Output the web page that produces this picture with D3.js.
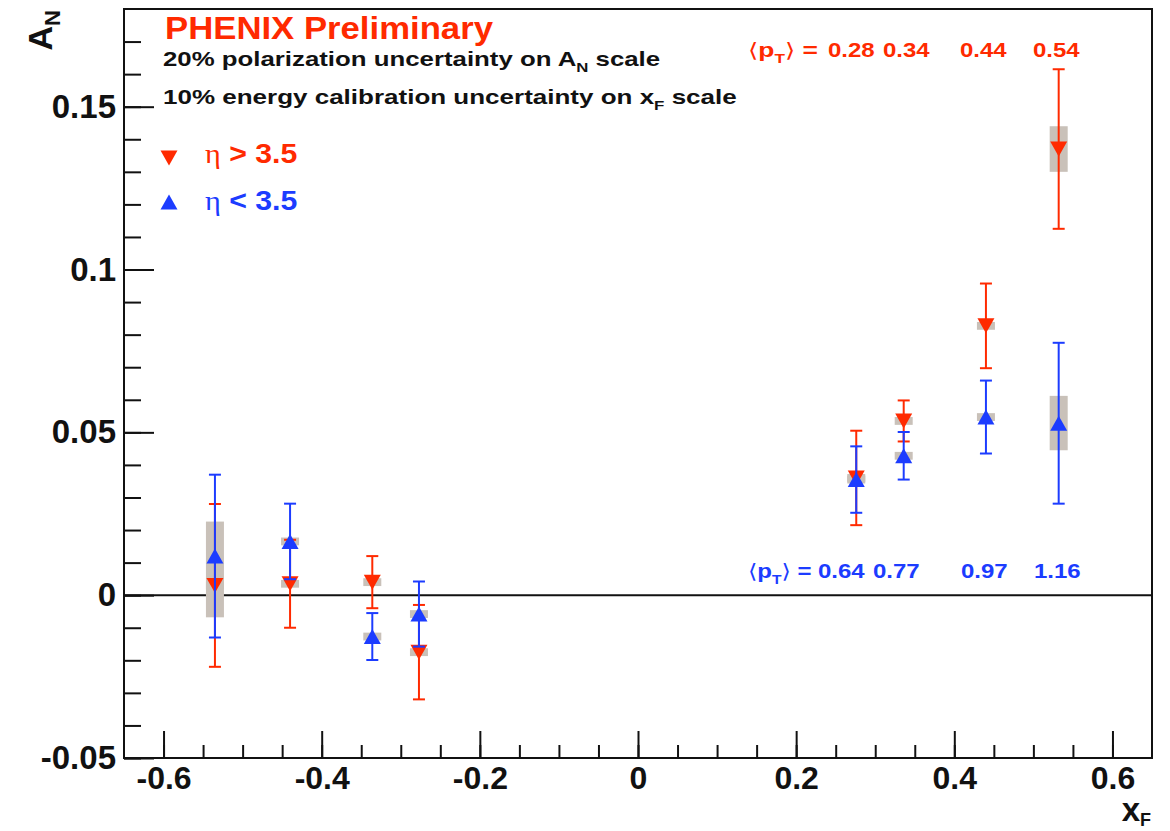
<!DOCTYPE html>
<html>
<head>
<meta charset="utf-8">
<script src="https://cdn.jsdelivr.net/npm/d3@7"></script>
<style>
  html, body { margin: 0; padding: 0; background: #fff; }
  svg { display: block; }
  text { font-family: "Liberation Sans", Arial, Helvetica, sans-serif; }
</style>
</head>
<body>
<svg id="chart" width="1170" height="831"></svg>
<script>
// ---------------- data ----------------
const xF        = [-0.535, -0.44, -0.336, -0.277, 0.276, 0.336, 0.44, 0.532];
const redAN     = [0.003, 0.0035, 0.004, -0.0175, 0.036, 0.0535, 0.0827, 0.137];
const redErr    = [0.025, 0.0135, 0.008, 0.0145, 0.0145, 0.0063, 0.013, 0.0245];
const redSys    = [0.0012, 0.0012, 0.0012, 0.0012, 0.0012, 0.0012, 0.0012, 0.007];
const blueAN    = [0.012, 0.0165, -0.0127, -0.0058, 0.0355, 0.0428, 0.0547, 0.0528];
const blueErr   = [0.025, 0.0116, 0.0072, 0.010, 0.0102, 0.0073, 0.0112, 0.0247];
const blueSysLo = [-0.0068, 0.0153, -0.0139, -0.007, 0.0343, 0.0416, 0.0535, 0.0445];
const blueSysHi = [0.0226, 0.0177, -0.0115, -0.0046, 0.0367, 0.044, 0.0559, 0.0612];
const redPt     = ["0.28", "0.34", "0.44", "0.54"];
const bluePt    = ["0.64", "0.77", "0.97", "1.16"];
const xMajor    = [-0.6, -0.4, -0.2, 0, 0.2, 0.4, 0.6];
const xMinor    = d3.range(-12, 13).map(i => +(i * 0.05).toFixed(2));
const yMajor    = [-0.05, 0, 0.05, 0.1, 0.15];
const yMinor    = d3.range(-5, 18).map(i => +(i * 0.01).toFixed(2));
const xLabels   = ["-0.6", "-0.4", "-0.2", "0", "0.2", "0.4", "0.6"];
const yLabels   = ["-0.05", "0", "0.05", "0.1", "0.15"];

// ---------------- layout ----------------
const RED = "#ff2a00", BLUE = "#1c3cff", SYS = "#c9c1b9", INK = "#111";
const L = 124, R = 1152, T = 9, B = 758;
const svg = d3.select("#chart");
const x = d3.scaleLinear().domain([-0.65, 0.65]).range([L, R]);
const y = d3.scaleLinear().domain([-0.05, 0.18]).range([B, T]);

// axes
function styleAxis(g) {
  g.select(".domain").remove();
  g.selectAll(".tick line").attr("stroke", INK).attr("stroke-width", 2);
  g.selectAll(".tick text").attr("fill", INK).attr("font-weight", "bold")
    .attr("font-family", "Liberation Sans, Arial, sans-serif");
}
svg.append("g").attr("transform", `translate(${L},0)`)
  .call(d3.axisLeft(y).tickValues(yMinor).tickSizeInner(-17).tickSizeOuter(0).tickFormat(""))
  .call(styleAxis);
svg.append("g").attr("transform", `translate(${L},0)`)
  .call(d3.axisLeft(y).tickValues(yMajor).tickSizeInner(-30).tickSizeOuter(0).tickPadding(8)
    .tickFormat((d, i) => yLabels[i]))
  .call(styleAxis)
  .call(g => g.selectAll(".tick text").attr("font-size", 33));
svg.append("g").attr("transform", `translate(0,${B})`)
  .call(d3.axisBottom(x).tickValues(xMinor).tickSizeInner(-13).tickSizeOuter(0).tickFormat(""))
  .call(styleAxis);
svg.append("g").attr("transform", `translate(0,${B})`)
  .call(d3.axisBottom(x).tickValues(xMajor).tickSizeInner(-27).tickSizeOuter(0).tickPadding(8)
    .tickFormat((d, i) => xLabels[i]))
  .call(styleAxis)
  .call(g => g.selectAll(".tick text").attr("font-size", 32));

// frame
svg.append("rect").attr("x", L).attr("y", T).attr("width", R - L).attr("height", B - T)
  .attr("fill", "none").attr("stroke", INK).attr("stroke-width", 2);

// zero line
svg.append("line").attr("x1", x(-0.65)).attr("x2", x(0.65)).attr("y1", y(0)).attr("y2", y(0))
  .attr("stroke", INK).attr("stroke-width", 2);

// systematic boxes
const boxW = 18;
const redBoxes = xF.map((v, i) => ({x: v, lo: redAN[i] - redSys[i], hi: redAN[i] + redSys[i]}));
const blueBoxes = xF.map((v, i) => ({x: v, lo: blueSysLo[i], hi: blueSysHi[i]}));
svg.append("g").selectAll("rect").data(redBoxes.concat(blueBoxes)).join("rect")
  .attr("x", d => x(d.x) - boxW / 2).attr("width", boxW)
  .attr("y", d => y(d.hi)).attr("height", d => y(d.lo) - y(d.hi))
  .attr("fill", SYS);

const upTri = "M0,-7.5L8.5,7.5L-8.5,7.5Z", downTri = "M0,7.5L8.5,-7.5L-8.5,-7.5Z";
function drawSeries(vals, errs, color, shape) {
  const data = xF.map((v, i) => ({x: v, y: vals[i], e: errs[i]}));
  const g = svg.append("g");
  g.selectAll("line.bar").data(data).join("line").attr("class", "bar")
    .attr("x1", d => x(d.x)).attr("x2", d => x(d.x))
    .attr("y1", d => y(d.y + d.e)).attr("y2", d => y(d.y - d.e))
    .attr("stroke", color).attr("stroke-width", 2);
  ["hi", "lo"].forEach(k => {
    g.selectAll("line.cap" + k).data(data).join("line").attr("class", "cap" + k)
      .attr("x1", d => x(d.x) - 6).attr("x2", d => x(d.x) + 6)
      .attr("y1", d => y(k === "hi" ? d.y + d.e : d.y - d.e))
      .attr("y2", d => y(k === "hi" ? d.y + d.e : d.y - d.e))
      .attr("stroke", color).attr("stroke-width", 2);
  });
  g.selectAll("path").data(data).join("path")
    .attr("d", shape).attr("fill", color)
    .attr("transform", d => `translate(${x(d.x)},${y(d.y)})`);
}
drawSeries(redAN, redErr, RED, downTri);
drawSeries(blueAN, blueErr, BLUE, upTri);

// ---------------- texts ----------------
function stretched(xp, yp, sx, anchor) {
  return svg.append("text")
    .attr("transform", `translate(${xp},${yp}) scale(${sx},1)`)
    .attr("text-anchor", anchor || "start")
    .attr("font-weight", "bold");
}
// title and notes
stretched(165, 39, 1.12).attr("font-size", 31).attr("fill", RED).text("PHENIX Preliminary");
const n1 = stretched(163, 66, 1.29).attr("font-size", 20).attr("fill", INK);
n1.append("tspan").text("20% polarization uncertainty on A");
n1.append("tspan").attr("font-size", 13).attr("dy", 6).text("N");
n1.append("tspan").attr("dy", -6).text(" scale");
const n2 = stretched(163, 104, 1.3).attr("font-size", 20).attr("fill", INK);
n2.append("tspan").text("10% energy calibration uncertainty on x");
n2.append("tspan").attr("font-size", 13).attr("dy", 6).text("F");
n2.append("tspan").attr("dy", -6).text(" scale");

// legend
svg.append("path").attr("d", downTri).attr("fill", RED).attr("transform", "translate(169,158)");
svg.append("path").attr("d", upTri).attr("fill", BLUE).attr("transform", "translate(169,202)");
[["η", " > 3.5", RED, 163], ["η", " < 3.5", BLUE, 210]].forEach(([g, t, c, yy]) => {
  const tx = stretched(205, yy, 1.08).attr("font-size", 28).attr("fill", c);
  tx.append("tspan").attr("font-family", "Liberation Serif, DejaVu Serif, serif")
    .attr("font-weight", "normal").text(g);
  tx.append("tspan").text(t);
});

// <pT> rows (label start positions in pixels)
const redPtX  = [828, 883, 960, 1033];
const bluePtX = [818, 873, 961, 1034];
function ptRow(labels, starts, color, yy, preScale) {
  const pre = stretched(748, yy, preScale).attr("font-size", 20).attr("fill", color);
  pre.append("tspan").attr("font-family", "DejaVu Sans, sans-serif").attr("font-weight", "normal").text("⟨");
  pre.append("tspan").text("p");
  pre.append("tspan").attr("font-size", 13).attr("dy", 6).text("T");
  pre.append("tspan").attr("dy", -6).attr("font-family", "DejaVu Sans, sans-serif")
    .attr("font-weight", "normal").text("⟩");
  pre.append("tspan").text(" =");
  labels.forEach((lab, i) => {
    stretched(starts[i], yy, 1.2).attr("font-size", 20).attr("fill", color).text(lab);
  });
}
ptRow(redPt, redPtX, RED, 57, 1.32);
ptRow(bluePt, bluePtX, BLUE, 578, 1.2);

// axis titles
const yt = svg.append("text").attr("transform", "translate(52,10) rotate(-90)")
  .attr("text-anchor", "end").attr("font-weight", "bold").attr("font-size", 34).attr("fill", INK);
yt.append("tspan").text("A");
yt.append("tspan").attr("font-size", 22).attr("dy", 8).text("N");
const xt = svg.append("text").attr("transform", "translate(1151,821)")
  .attr("text-anchor", "end").attr("font-weight", "bold").attr("font-size", 33).attr("fill", INK);
xt.append("tspan").text("x");
xt.append("tspan").attr("font-size", 18).attr("dy", 5).text("F");
</script>
</body>
</html>
